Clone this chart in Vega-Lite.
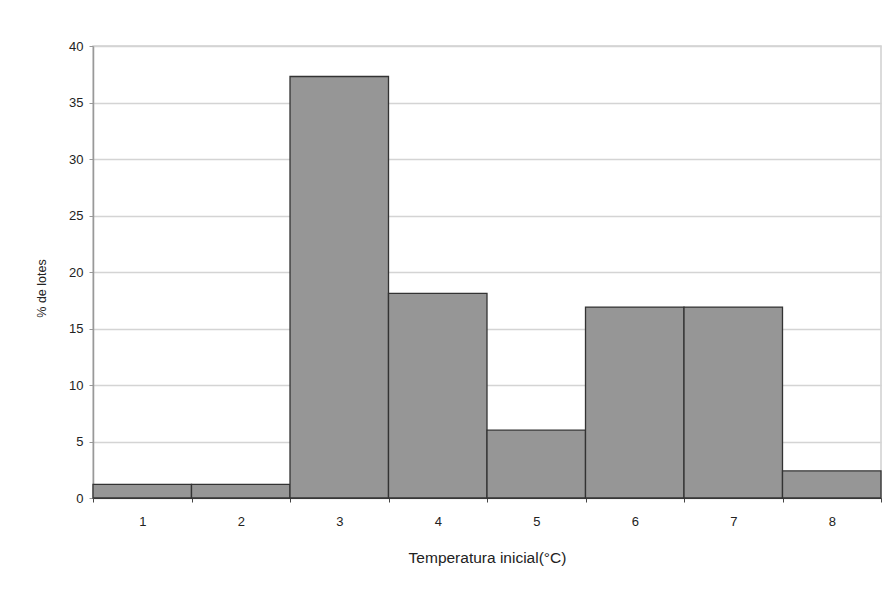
{
  "$schema": "https://vega.github.io/schema/vega-lite/v6.json",
  "autosize": "none",
  "width": 788,
  "height": 452,
  "padding": {"left": 93, "top": 46, "right": 7, "bottom": 95},
  "background": "white",
  "config": {
    "font": "Liberation Sans",
    "view": {"stroke": "#cfcfcf", "strokeWidth": 1.5},
    "axis": {
      "labelFont": "Liberation Sans",
      "titleFont": "Liberation Sans",
      "labelFontSize": 13,
      "titleFontWeight": "normal",
      "labelColor": "#222",
      "titleColor": "#222"
    }
  },
  "data": {
    "values": [
      {"temp": "1", "pct": 1.2},
      {"temp": "2", "pct": 1.2},
      {"temp": "3", "pct": 37.3},
      {"temp": "4", "pct": 18.1},
      {"temp": "5", "pct": 6.0},
      {"temp": "6", "pct": 16.9},
      {"temp": "7", "pct": 16.9},
      {"temp": "8", "pct": 2.4}
    ]
  },
  "mark": {"type": "bar", "fill": "#969696", "stroke": "#333", "strokeWidth": 1.3},
  "encoding": {
    "x": {
      "field": "temp",
      "type": "ordinal",
      "scale": {"paddingInner": 0, "paddingOuter": 0},
      "axis": {
        "title": "Temperatura inicial(°C)",
        "titleFontSize": 15.5,
        "labelAngle": 0,
        "tickBand": "extent",
        "grid": false,
        "domainColor": "#444",
        "tickColor": "#444",
        "tickSize": 4,
        "labelPadding": 13,
        "titlePadding": 22
      }
    },
    "y": {
      "field": "pct",
      "type": "quantitative",
      "scale": {"domain": [0, 40]},
      "axis": {
        "title": "% de lotes",
        "titleFontSize": 12.5,
        "titleY": 242,
        "values": [0, 5, 10, 15, 20, 25, 30, 35, 40],
        "gridColor": "#d4d4d4",
        "gridWidth": 1.5,
        "domainColor": "#999",
        "domainWidth": 1.5,
        "tickColor": "#999",
        "tickSize": 4,
        "labelPadding": 6,
        "titlePadding": 20
      }
    }
  }
}
